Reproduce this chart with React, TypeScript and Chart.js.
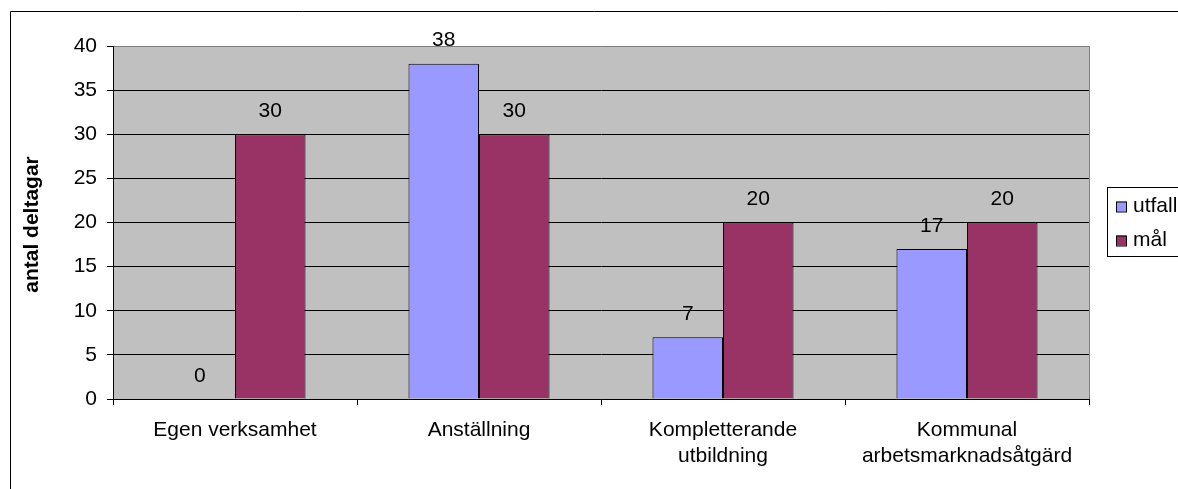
import { useEffect, useRef } from 'react';
import { Chart, registerables } from 'chart.js';

Chart.register(...registerables);

const categories: string[][] = [
  ['Egen verksamhet'],
  ['Anställning'],
  ['Kompletterande', 'utbildning'],
  ['Kommunal', 'arbetsmarknadsåtgärd'],
];
const seriesNames = ['utfall', 'mål'];
const utfall = [0, 38, 7, 17];
const mal = [30, 30, 20, 20];
const yMin = 0;
const yMax = 40;
const yStep = 5;
const yTitle = 'antal deltagar';

const FONT = "'Liberation Sans', Arial, sans-serif";
const FS = 21;
const COLORS = ['#9999FF', '#993366'];

const decorPlugin = {
  id: 'decor',
  beforeDraw(chart: any) {
    const { ctx, chartArea } = chart;
    ctx.save();
    ctx.fillStyle = '#ffffff';
    ctx.fillRect(0, 0, chart.width, chart.height);
    // outer frame
    ctx.strokeStyle = '#000';
    ctx.lineWidth = 1;
    ctx.beginPath();
    ctx.moveTo(10.5, chart.height + 5);
    ctx.lineTo(10.5, 11.5);
    ctx.lineTo(chart.width + 5, 11.5);
    ctx.stroke();
    // plot background
    ctx.fillStyle = '#C0C0C0';
    ctx.fillRect(chartArea.left, chartArea.top, chartArea.right - chartArea.left, chartArea.bottom - chartArea.top);
    ctx.restore();
  },
  afterDraw(chart: any) {
    const { ctx, chartArea } = chart;
    ctx.save();
    // right border of plot area
    ctx.strokeStyle = '#808080';
    ctx.lineWidth = 1;
    ctx.beginPath();
    ctx.moveTo(Math.round(chartArea.right) + 0.5, chartArea.top);
    ctx.lineTo(Math.round(chartArea.right) + 0.5, chartArea.bottom);
    ctx.stroke();

    // y title
    ctx.fillStyle = '#000';
    ctx.font = `bold ${FS}px ${FONT}`;
    ctx.textAlign = 'center';
    ctx.textBaseline = 'middle';
    ctx.translate(32, (chartArea.top + chartArea.bottom) / 2 + 2);
    ctx.rotate(-Math.PI / 2);
    ctx.fillText(yTitle, 0, 0);
    ctx.restore();

    // legend
    ctx.save();
    ctx.strokeStyle = '#000';
    ctx.lineWidth = 1;
    ctx.strokeRect(1107.5, 187.5, 90, 69);
    ctx.font = `${FS}px ${FONT}`;
    ctx.textAlign = 'left';
    ctx.textBaseline = 'middle';
    seriesNames.forEach((name, i) => {
      const cy = 206.5 + i * 34;
      ctx.fillStyle = COLORS[i];
      ctx.fillRect(1116, cy - 5, 10, 10);
      ctx.strokeRect(1116.5, cy - 4.5, 10, 10);
      ctx.fillStyle = '#000';
      ctx.fillText(name, 1133, cy);
    });
    ctx.restore();

    // data labels
    ctx.save();
    ctx.fillStyle = '#000';
    ctx.font = `${FS}px ${FONT}`;
    ctx.textAlign = 'center';
    ctx.textBaseline = 'middle';
    chart.data.datasets.forEach((ds: any, di: number) => {
      const meta = chart.getDatasetMeta(di);
      meta.data.forEach((el: any, i: number) => {
        ctx.fillText(String(ds.data[i]), el.x, el.y - 23);
      });
    });
    ctx.restore();
  },
};

export default function App() {
  const ref = useRef<HTMLCanvasElement | null>(null);
  useEffect(() => {
    if (!ref.current) return;
    const chart = new Chart(ref.current, {
      type: 'bar',
      data: {
        labels: categories,
        datasets: [
          {
            label: seriesNames[0],
            data: utfall,
            backgroundColor: COLORS[0],
            borderColor: '#000',
            borderWidth: 1,
          },
          {
            label: seriesNames[1],
            data: mal,
            backgroundColor: COLORS[1],
            borderColor: '#000',
            borderWidth: 1,
          },
        ],
      },
      options: {
        responsive: false,
        animation: false,
        layout: { padding: { left: 0, top: 46, right: 89, bottom: 0 } },
        datasets: { bar: { categoryPercentage: 0.578, barPercentage: 1 } },
        plugins: {
          legend: { display: false },
          tooltip: { enabled: false },
          title: { display: false },
        },
        scales: {
          x: {
            grid: {
              display: true,
              drawOnChartArea: false,
              drawTicks: true,
              tickLength: 6,
              color: '#000',
              tickColor: '#000',
              offset: true,
            },
            border: { display: true, color: '#000', width: 1 },
            ticks: {
              color: '#000',
              font: { family: FONT, size: FS, lineHeight: 1.2 },
              padding: 13,
              maxRotation: 0,
              autoSkip: false,
            },
            afterFit: (s: any) => {
              s.height = 90;
            },
          },
          y: {
            min: yMin,
            max: yMax,
            grid: {
              color: (c: any) => (c.tick && c.tick.value === yMax ? '#808080' : '#000'),
              tickColor: '#000',
              tickLength: 6,
            },
            border: { display: true, color: '#000', width: 1 },
            ticks: {
              stepSize: yStep,
              color: '#000',
              font: { family: FONT, size: FS },
              padding: 10,
            },
            afterFit: (s: any) => {
              s.width = 113;
            },
          },
        },
      },
      plugins: [decorPlugin],
    });
    return () => chart.destroy();
  }, []);
  return (
    <div style={{ position: 'fixed', left: 0, top: 0, width: 1178, height: 489 }}>
      <canvas ref={ref} width={1178} height={489} style={{ display: 'block' }} />
    </div>
  );
}
